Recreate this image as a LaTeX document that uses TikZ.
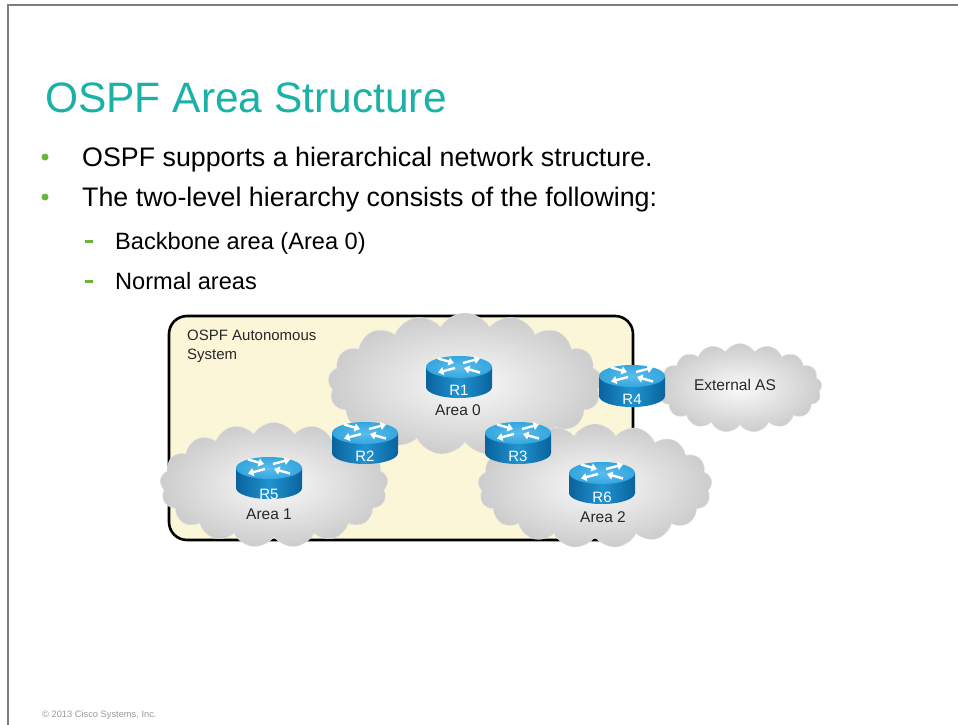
\documentclass[tikz,border=0pt]{standalone}
\usepackage{fontspec}
\setmainfont{Liberation Sans}
\usetikzlibrary{shapes.symbols,arrows.meta}

\definecolor{titleteal}{RGB}{26,178,166}
\definecolor{bulletgreen}{RGB}{108,179,62}
\definecolor{ascream}{RGB}{252,246,216}
\definecolor{rtop}{RGB}{52,166,222}
\definecolor{rtopin}{RGB}{92,188,236}
\definecolor{rside}{RGB}{10,98,156}
\definecolor{rsidemid}{RGB}{32,148,208}
\definecolor{framegray}{RGB}{125,125,125}
\definecolor{labelgray}{RGB}{40,40,40}

\tikzset{
  slidetitle/.style={anchor=base west, inner sep=0, text=titleteal,
    font=\fontsize{42.5}{50}\selectfont},
  bullettext/.style={anchor=base west, inner sep=0,
    font=\fontsize{26.8}{32}\selectfont},
  subtext/.style={anchor=base west, inner sep=0,
    font=\fontsize{23.6}{28}\selectfont},
  bulletdot/.style={circle, fill=bulletgreen, inner sep=0, minimum size=7},
  subdash/.style={rectangle, fill=bulletgreen, inner sep=0,
    minimum width=8, minimum height=2.2},
  asbox/.style={rectangle, rounded corners=18, draw=black, line width=2.6,
    fill=ascream, inner sep=0},
  cloudarea/.style={cloud, cloud puffs=17, cloud puff arc=120,
    cloud ignores aspect, inner sep=0, shade, inner color=gray!4,
    outer color=gray!40, draw=gray!20, line width=0.4},
  routername/.style={text=white, inner sep=0, font=\fontsize{15}{18}\selectfont},
  arealabel/.style={text=labelgray, inner sep=0, font=\fontsize{15.5}{18}\selectfont},
  footer/.style={anchor=base west, inner sep=0, text=gray!80,
    font=\fontsize{9.3}{11}\selectfont},
  routerarrow/.style={white, line width=2.4,
    -{Triangle[length=5.5pt,width=8pt]}},
  pics/router/.style={code={
    % cylinder side: down the left edge, round the lower rim, up the right edge
    \shade[left color=rside, right color=rside, middle color=rsidemid]
      (-33,0) -- (-33,20) arc [start angle=180, end angle=0,
        x radius=33, y radius=11] -- (33,0) -- cycle;
    % top face
    \shade[inner color=rtopin, outer color=rtop]
      (0,0) ellipse [x radius=33, y radius=11];
    % the four routing arrows
    \draw[routerarrow] (-21,-8.5) -- (-5,-4);
    \draw[routerarrow] (4,-4) -- (21,-8.5);
    \draw[routerarrow] (-4,1) -- (-21,5.5);
    \draw[routerarrow] (21,5.5) -- (5,1);
  }}
}

\begin{document}
\begin{tikzpicture}[x=1pt, y=-1pt]
  \useasboundingbox[fill=white] (0,0) rectangle (958,725);

  % slide frame
  \draw[framegray, line width=1.8] (8,725) -- (8,5) -- (958,5);

  % heading and bullet list
  \node[slidetitle] (title) at (45,112.5) {OSPF Area Structure};
  \node[bulletdot] (dot1) at (45,157) {};
  \node[bullettext] (item1) at (82,166.5) {OSPF supports a hierarchical network structure.};
  \node[bulletdot] (dot2) at (45,197) {};
  \node[bullettext] (item2) at (82,206.5) {The two-level hierarchy consists of the following:};
  \node[subdash] (dash1) at (88.5,241.5) {};
  \node[subtext] (sub1) at (115,249.5) {Backbone area (Area 0)};
  \node[subdash] (dash2) at (88.5,281.5) {};
  \node[subtext] (sub2) at (115,289.5) {Normal areas};

  % autonomous system
  \node[asbox, minimum width=464, minimum height=224] (asys) at (401,428) {};
  \node[anchor=north west, inner sep=0, align=left, text=labelgray,
        font=\fontsize{15}{19}\selectfont] (aslabel) at (187,329.8)
        {OSPF Autonomous\\System};

  % areas
  \node[cloudarea, minimum width=274, minimum height=142] (area0) at (465,384) {};
  \node[cloudarea, minimum width=228, minimum height=125] (area1) at (274,485) {};
  \node[cloudarea, minimum width=234, minimum height=124] (area2) at (595,486) {};
  \node[cloudarea, minimum width=164, minimum height=89] (extas) at (740,388) {};

  % routers
  \pic at (459,367) {router};
  \pic at (365,433) {router};
  \pic at (518,433) {router};
  \pic at (632,376) {router};
  \pic at (269,468) {router};
  \pic at (602,473) {router};
  \node[routername] (r1) at (459,390.5) {R1};
  \node[routername] (r2) at (365,456.5) {R2};
  \node[routername] (r3) at (518,456.5) {R3};
  \node[routername] (r4) at (632,399.5) {R4};
  \node[routername] (r5) at (269,494) {R5};
  \node[routername] (r6) at (602,497.5) {R6};

  % area names
  \node[arealabel] (lab0) at (458,410) {Area 0};
  \node[arealabel] (lab1) at (269,514) {Area 1};
  \node[arealabel] (lab2) at (603,517) {Area 2};
  \node[arealabel] (labext) at (735,385) {External AS};

  % footer
  \node[footer] (copy) at (42,717.5) {© 2013 Cisco Systems, Inc.};
\end{tikzpicture}
\end{document}
